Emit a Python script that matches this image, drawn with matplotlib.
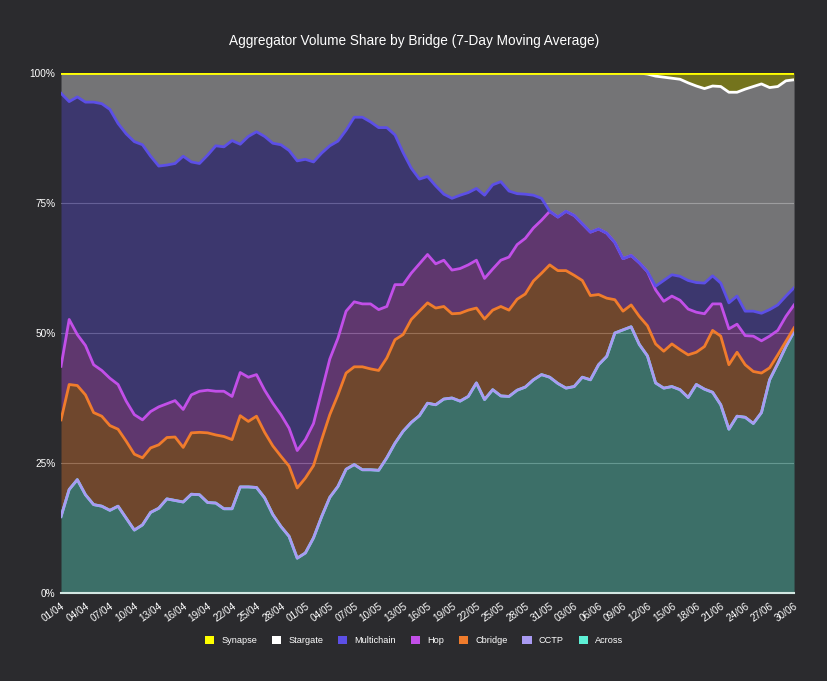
import matplotlib
matplotlib.use("Agg")
import matplotlib.pyplot as plt
from matplotlib.patches import Patch
import numpy as np
import pandas as pd

# Stacked share (%): each list is the top edge of that bridge's band
days = pd.date_range("2023-04-01", "2023-06-30", freq="D")

across_top = [
    14.7, 19.9, 21.8, 18.9, 17.0, 16.7, 15.9, 16.7, 14.4, 12.1,
    13.1, 15.5, 16.3, 18.1, 17.8, 17.5, 19.0, 18.9, 17.4, 17.3,
    16.2, 16.2, 20.4, 20.4, 20.3, 18.3, 15.1, 12.8, 10.9, 6.7,
    7.7, 10.6, 14.7, 18.4, 20.5, 23.8, 24.7, 23.7, 23.7, 23.6,
    26.0, 28.8, 31.1, 32.8, 34.1, 36.5, 36.2, 37.3, 37.5, 36.9,
    37.8, 40.4, 37.2, 39.1, 37.9, 37.8, 39.0, 39.6, 41.0, 42.0,
    41.5, 40.3, 39.4, 39.7, 41.5, 41.0, 43.9, 45.5, 50.0, 50.6,
    51.2, 47.8, 45.6, 40.4, 39.4, 39.7, 39.1, 37.6, 40.1, 39.2,
    38.6, 36.2, 31.5, 34.0, 33.8, 32.6, 34.7, 41.0, 44.1, 47.4,
    50.3,
]
# CCTP share is zero in this window, so its edge sits on Across
cctp_top = list(across_top)
cbridge_top = [
    33.3, 40.1, 39.9, 38.1, 34.7, 34.0, 32.2, 31.5, 29.2, 26.7,
    26.0, 27.9, 28.5, 29.9, 30.0, 28.0, 30.8, 30.9, 30.8, 30.4,
    30.1, 29.5, 34.1, 33.0, 34.0, 30.9, 28.3, 26.3, 24.4, 20.2,
    22.1, 24.5, 29.5, 34.3, 38.1, 42.3, 43.5, 43.5, 43.1, 42.8,
    45.2, 48.7, 49.7, 52.6, 54.2, 55.8, 54.8, 55.1, 53.7, 53.8,
    54.4, 54.8, 52.7, 54.4, 55.1, 54.4, 56.5, 57.5, 60.0, 61.5,
    63.1, 62.0, 62.0, 61.1, 60.1, 57.2, 57.4, 56.7, 56.4, 54.2,
    55.4, 53.2, 51.4, 47.9, 46.5, 47.9, 46.8, 45.8, 46.3, 47.4,
    50.5, 49.4, 43.9, 46.3, 43.9, 42.6, 42.3, 43.3, 45.8, 48.4,
    51.0,
]
hop_top = [
    43.6, 52.6, 49.7, 47.6, 43.9, 42.8, 41.3, 40.1, 36.9, 34.3,
    33.3, 34.9, 35.8, 36.4, 37.0, 35.3, 38.1, 38.8, 39.0, 38.8,
    38.8, 37.8, 42.4, 41.5, 42.0, 39.0, 36.5, 34.3, 31.7, 27.4,
    29.5, 32.6, 38.8, 45.0, 49.0, 54.2, 56.0, 55.6, 55.6, 54.5,
    55.1, 59.3, 59.3, 61.5, 63.3, 65.1, 63.3, 64.0, 62.1, 62.4,
    63.1, 64.0, 60.5, 62.3, 64.0, 64.6, 67.0, 68.2, 70.2, 71.7,
    73.4, 72.3, 73.4, 72.6, 71.0, 69.4, 70.0, 69.2, 67.4, 64.3,
    64.9, 63.5, 61.8, 58.3, 56.1, 57.1, 56.3, 54.6, 54.0, 53.7,
    55.6, 55.6, 50.8, 51.7, 49.5, 49.4, 48.5, 49.4, 50.5, 53.2,
    55.4,
]
multichain_top = [
    96.1, 94.5, 95.4, 94.4, 94.4, 94.1, 93.0, 90.3, 88.3, 86.8,
    86.2, 84.0, 82.1, 82.3, 82.6, 84.0, 82.9, 82.6, 84.2, 86.0,
    85.8, 87.0, 86.3, 87.8, 88.7, 87.8, 86.5, 86.2, 85.1, 83.1,
    83.4, 82.9, 84.6, 86.0, 86.9, 89.0, 91.5, 91.5, 90.6, 89.5,
    89.5, 88.1, 84.7, 81.7, 79.6, 80.1, 78.3, 76.7, 75.9, 76.5,
    77.0, 77.8, 76.5, 78.5, 79.1, 77.3, 76.8, 76.7, 76.5, 75.9,
    73.4, 72.3, 73.4, 72.6, 71.0, 69.4, 70.0, 69.2, 67.4, 64.3,
    64.9, 63.5, 61.8, 59.0, 60.1, 61.2, 60.9, 60.1, 59.7, 59.6,
    61.0, 59.6, 55.8, 57.1, 54.2, 54.2, 53.8, 54.5, 55.4, 57.1,
    58.7,
]
stargate_top = [
    100.0, 100.0, 100.0, 100.0, 100.0, 100.0, 100.0, 100.0, 100.0, 100.0,
    100.0, 100.0, 100.0, 100.0, 100.0, 100.0, 100.0, 100.0, 100.0, 100.0,
    100.0, 100.0, 100.0, 100.0, 100.0, 100.0, 100.0, 100.0, 100.0, 100.0,
    100.0, 100.0, 100.0, 100.0, 100.0, 100.0, 100.0, 100.0, 100.0, 100.0,
    100.0, 100.0, 100.0, 100.0, 100.0, 100.0, 100.0, 100.0, 100.0, 100.0,
    100.0, 100.0, 100.0, 100.0, 100.0, 100.0, 100.0, 100.0, 100.0, 100.0,
    100.0, 100.0, 100.0, 100.0, 100.0, 100.0, 100.0, 100.0, 100.0, 100.0,
    100.0, 100.0, 99.8, 99.4, 99.2, 99.0, 98.8, 98.1, 97.5, 97.0,
    97.5, 97.4, 96.3, 96.3, 96.9, 97.4, 97.9, 97.2, 97.4, 98.5,
    98.7,
]
synapse_top = [100.0] * len(days)

bridges = ["Across", "CCTP", "Cbridge", "Hop", "Multichain", "Stargate", "Synapse"]
tops = [across_top, cctp_top, cbridge_top, hop_top, multichain_top, stargate_top, synapse_top]
colors = {
    "Synapse": "#ffff00",
    "Stargate": "#ffffff",
    "Multichain": "#5c4fe6",
    "Hop": "#c24fe8",
    "Cbridge": "#f07c2c",
    "CCTP": "#a99af2",
    "Across": "#5ef0d6",
}
bg = "#2b2b2e"

plt.rcParams["font.family"] = ["Liberation Sans", "DejaVu Sans"]

fig = plt.figure(figsize=(8.28, 6.81), dpi=100, facecolor=bg)
ax = fig.add_axes([0.0737, 0.1292, 0.8853, 0.7636], facecolor=bg)

x = np.arange(len(days))
lower = np.zeros(len(days))
for name, top in zip(bridges, tops):
    top = np.array(top)
    ax.fill_between(x, lower, top, color=colors[name], alpha=0.35, lw=0, zorder=2)
    ax.plot(x, top, color=colors[name], lw=2.0, zorder=3, solid_joinstyle="round")
    lower = top

ax.set_xlim(0, len(days) - 1)
ax.set_ylim(0, 100)

ax.set_yticks([0, 25, 50, 75, 100])
ax.set_yticklabels(["0%", "25%", "50%", "75%", "100%"])
ticks = x[::3]
ax.set_xticks(ticks)
ax.set_xticklabels([days[i].strftime("%d/%m") for i in ticks], rotation=35,
                   ha="right", rotation_mode="anchor")
ax.tick_params(colors="white", labelsize=7.2, length=0, pad=4)
ax.tick_params(axis="x", pad=6)

ax.grid(axis="y", color="white", alpha=0.3, lw=0.8, zorder=1)
ax.set_axisbelow(True)
for side in ["top", "right", "left"]:
    ax.spines[side].set_visible(False)
ax.spines["bottom"].set_color("#d2e6e2")
ax.spines["bottom"].set_linewidth(1.5)
ax.spines["bottom"].set_zorder(4)

fig.text(0.5, 0.94, "Aggregator Volume Share by Bridge (7-Day Moving Average)",
         ha="center", va="center", color="white", fontsize=9.8)

legend_order = ["Synapse", "Stargate", "Multichain", "Hop", "Cbridge", "CCTP", "Across"]
handles = [Patch(facecolor=colors[n], edgecolor="none") for n in legend_order]
fig.legend(handles, legend_order, loc="center", bbox_to_anchor=(0.5, 0.06), ncol=7,
           frameon=False, fontsize=6.6, labelcolor="white", handlelength=1.0,
           handleheight=1.0, handletextpad=0.8, columnspacing=1.6)

fig.savefig("out.png", dpi=100, facecolor=bg)
